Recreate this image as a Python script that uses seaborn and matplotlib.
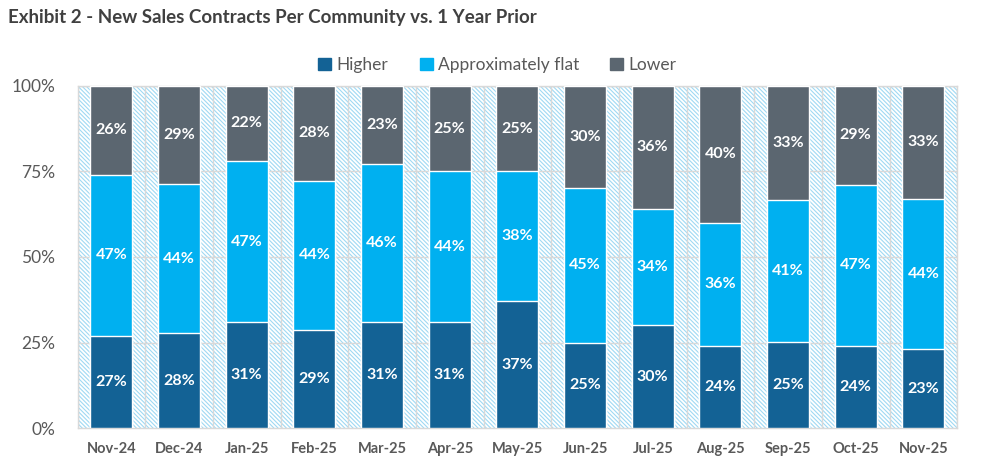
import numpy as np
import pandas as pd
import seaborn as sns
import matplotlib.pyplot as plt
from matplotlib.patches import Rectangle, Patch

months = ["Nov-24", "Dec-24", "Jan-25", "Feb-25", "Mar-25", "Apr-25", "May-25",
          "Jun-25", "Jul-25", "Aug-25", "Sep-25", "Oct-25", "Nov-25"]
higher = [27, 28, 31, 29, 31, 31, 37, 25, 30, 24, 25, 24, 23]
flat = [47, 44, 47, 44, 46, 44, 38, 45, 34, 36, 41, 47, 44]
lower = [26, 29, 22, 28, 23, 25, 25, 30, 36, 40, 33, 29, 33]

c_higher = "#136295"
c_flat = "#00B0F0"
c_lower = "#5B6670"
txt = "#595959"

sns.set_theme(style="white")
plt.rcParams["font.family"] = ["Lato", "DejaVu Sans"]
plt.rcParams["hatch.color"] = "#9FD9F3"
plt.rcParams["hatch.linewidth"] = 0.8

df = pd.DataFrame({"month": months, "higher": higher, "flat": flat, "lower": lower})
tot = df[["higher", "flat", "lower"]].sum(axis=1)
df["h_n"] = df.higher / tot * 100
df["f_n"] = df.flat / tot * 100
df["l_n"] = df.lower / tot * 100
df["cum_hf"] = df.h_n + df.f_n
df["cum_all"] = df.cum_hf + df.l_n

fig = plt.figure(figsize=(9.95, 4.71), dpi=100)
ax = fig.add_axes([0.078, 0.091, 0.884, 0.727])

# hatched plot background
ax.add_patch(Rectangle((0, 0), 1, 1, transform=ax.transAxes, facecolor="white",
                       edgecolor="#9FD9F3", hatch="\\" * 8, lw=0, zorder=0))

# stacked by overlaying cumulative heights
sns.barplot(data=df, x="month", y="cum_all", color=c_lower, width=0.62,
            saturation=1, ax=ax, zorder=3)
sns.barplot(data=df, x="month", y="cum_hf", color=c_flat, width=0.62,
            saturation=1, ax=ax, zorder=3)
sns.barplot(data=df, x="month", y="h_n", color=c_higher, width=0.62,
            saturation=1, ax=ax, zorder=3)

# grid lines
for y in [25, 50, 75, 100]:
    ax.axhline(y, color="#D9D9D9", lw=1, zorder=1)
for xb in np.arange(-0.5, len(months) + 0.5, 1):
    ax.axvline(xb, color="#D9D9D9", lw=1, zorder=1)

for i, r in df.iterrows():
    ax.text(i, r.h_n / 2, f"{r.higher}%", ha="center", va="center", color="white",
            fontsize=11.5, fontweight="bold", zorder=5)
    ax.text(i, r.h_n + r.f_n / 2, f"{r.flat}%", ha="center", va="center", color="white",
            fontsize=11.5, fontweight="bold", zorder=5)
    ax.text(i, r.cum_hf + r.l_n / 2, f"{r.lower}%", ha="center", va="center", color="white",
            fontsize=11.5, fontweight="bold", zorder=5)

ax.set_xlim(-0.5, len(months) - 0.5)
ax.set_ylim(0, 100)
ax.set_yticks([0, 25, 50, 75, 100])
ax.set_yticklabels(["0%", "25%", "50%", "75%", "100%"], fontsize=12.5, color=txt)
ax.set_xticks(range(len(months)))
ax.set_xticklabels(months, fontsize=10.5, fontweight="bold", color=txt)
ax.tick_params(axis="x", length=0, pad=10)
ax.tick_params(axis="y", length=0, pad=16)
ax.set_xlabel("")
ax.set_ylabel("")
for s in ax.spines.values():
    s.set_color("#D9D9D9")
    s.set_linewidth(1)

handles = [Patch(color=c_higher, label="Higher"),
           Patch(color=c_flat, label="Approximately flat"),
           Patch(color=c_lower, label="Lower")]
leg = fig.legend(handles=handles, loc="center", bbox_to_anchor=(0.5, 0.862), ncol=3,
                 frameon=False, fontsize=12.5, handlelength=0.75, handleheight=0.75,
                 handletextpad=0.3, columnspacing=1.8)
for t in leg.get_texts():
    t.set_color(txt)

fig.text(0.008, 0.962, "Exhibit 2 - New Sales Contracts Per Community vs. 1 Year Prior",
         fontsize=13.5, fontweight="bold", color="#404040", ha="left", va="center")

fig.savefig("out.png", dpi=100)
